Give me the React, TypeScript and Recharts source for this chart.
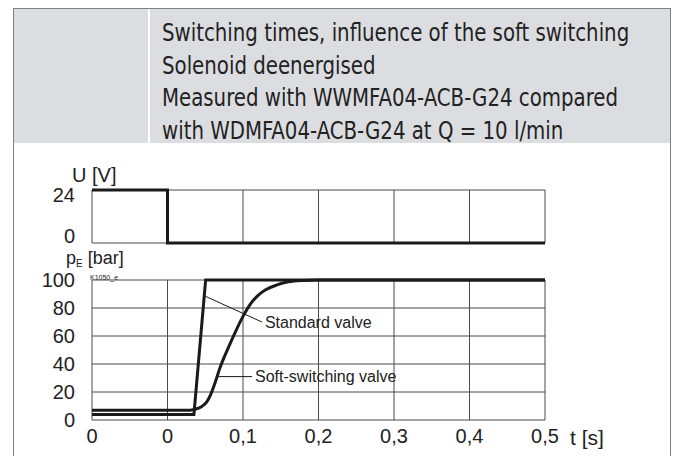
import React from 'react';
import { LineChart, Line, XAxis, YAxis, CartesianGrid, ReferenceLine, ReferenceDot } from 'recharts';

// ---- data ----
const titleLines = [
  'Switching  times, influence of the soft switching',
  'Solenoid deenergised',
  'Measured with WWMFA04-ACB-G24 compared',
  'with WDMFA04-ACB-G24 at Q = 10 l/min',
];
const timeTicks = [-0.1, 0, 0.1, 0.2, 0.3, 0.4, 0.5];
const timeTickLabels = ['0', '0', '0,1', '0,2', '0,3', '0,4', '0,5'];
const voltageTicks = [0, 24];
const pressureTicks = [0, 20, 40, 60, 80, 100];

const voltageT = [-0.1, 0, 0, 0.5];
const voltageU = [24, 24, 0, 0];

const standardT = [-0.1, 0.035, 0.0505, 0.5];
const standardP = [4, 4, 100, 100];

const softT = [-0.1, 0.03, 0.035, 0.045, 0.052, 0.057, 0.062, 0.07, 0.08, 0.09, 0.1, 0.11, 0.12, 0.13, 0.145, 0.16, 0.18, 0.2, 0.5];
const softP = [7, 7, 7.5, 9.5, 13, 18, 25, 38, 51, 63, 74, 83, 89, 93, 96.5, 98.7, 99.7, 100, 100];

const standardLabel = 'Standard valve';
const softLabel = 'Soft-switching valve';
const standardPointer = [{ x: 0.0497, y: 88.5 }, { x: 0.125, y: 70 }];
const softPointer = [{ x: 0.067, y: 31 }, { x: 0.112, y: 31 }];

const voltageData = voltageT.map((t, i) => ({ t, u: voltageU[i] }));
const standardData = standardT.map((t, i) => ({ t, p: standardP[i] }));
const softData = softT.map((t, i) => ({ t, p: softP[i] }));

const fmtTime = (v: number) => {
  const i = timeTicks.findIndex((x) => Math.abs(x - v) < 1e-9);
  return i >= 0 ? timeTickLabels[i] : String(v);
};

const FONT = '"Liberation Sans", Arial, sans-serif';
const NARROW = '"DejaVu Sans Condensed", "Liberation Sans Narrow", sans-serif';
const INK = '#1a1a1a';
const GRID = '#4a4a4a';
const TICK_FS = 20;
const tickStyle = { fontFamily: FONT, fontSize: TICK_FS, fill: '#222' };

const VoltageTick = (props: any) => {
  const { x, y, payload } = props;
  const dy = payload.value === 24 ? 5 : -7;
  return (
    <text x={x} y={y + dy} textAnchor="end" dominantBaseline="central" style={tickStyle}>
      {payload.value}
    </text>
  );
};

export default function App() {
  return (
    <div style={{ position: 'absolute', left: 0, top: 0, width: 676, height: 456, background: '#fff', overflow: 'hidden' }}>
      {/* frame */}
      <div style={{ position: 'absolute', left: 13, top: 8, width: 656, height: 470, border: '1px solid #808080' }} />
      <div style={{ position: 'absolute', left: 14, top: 9, width: 656, height: 134, background: '#dcdde0' }} />
      <div style={{ position: 'absolute', left: 148, top: 9, width: 2, height: 134, background: '#ffffff' }} />
      {titleLines.map((s, i) => (
        <div key={i} style={{ position: 'absolute', left: 162, top: 17 + i * 32.6, fontFamily: NARROW, fontSize: 24, lineHeight: '32px', color: '#222', whiteSpace: 'nowrap', transform: 'scaleX(0.915)', transformOrigin: 'left center' }}>{s}</div>
      ))}

      <div style={{ position: 'absolute', left: 72, top: 165, fontFamily: FONT, fontSize: 20, lineHeight: '20px', color: '#222', whiteSpace: 'nowrap' }}>U [V]</div>
      <div style={{ position: 'absolute', left: 66, top: 249, fontFamily: FONT, fontSize: 18, lineHeight: '18px', color: '#222', whiteSpace: 'nowrap' }}>
        p<span style={{ fontSize: 10, position: 'relative', top: 3 }}>E</span> [bar]
      </div>
      <div style={{ position: 'absolute', left: 90, top: 274, fontFamily: FONT, fontSize: 7, lineHeight: '7px', color: '#222', whiteSpace: 'nowrap' }}>K1050_e</div>
      <div style={{ position: 'absolute', left: 570, top: 427, fontFamily: FONT, fontSize: 21, lineHeight: '21px', color: '#222', whiteSpace: 'nowrap' }}>t [s]</div>

      {/* voltage chart */}
      <div style={{ position: 'absolute', left: 0, top: 0 }}>
        <LineChart width={676} height={260} data={voltageData} margin={{ top: 190, right: 131, bottom: 17, left: 32 }}>
          <CartesianGrid stroke={GRID} strokeWidth={1} />
          <XAxis dataKey="t" type="number" domain={[-0.1, 0.5]} ticks={timeTicks} interval={0} tick={{ fill: 'transparent', fontSize: 1 }} tickFormatter={() => ''} axisLine={false} tickLine={false} height={0} />
          <YAxis type="number" domain={[0, 24]} ticks={voltageTicks} interval={0} width={60} axisLine={false} tickLine={false} tickSize={0} tickMargin={17} tick={<VoltageTick />} />
          <Line dataKey="u" type="linear" stroke={INK} strokeWidth={3} dot={false} isAnimationActive={false} />
        </LineChart>
      </div>

      {/* pressure chart */}
      <div style={{ position: 'absolute', left: 0, top: 0 }}>
        <LineChart width={676} height={456} margin={{ top: 280, right: 131, bottom: 6, left: 32 }}>
          <CartesianGrid stroke={GRID} strokeWidth={1} />
          <XAxis dataKey="t" type="number" domain={[-0.1, 0.5]} ticks={timeTicks} interval={0} tickFormatter={fmtTime} height={30} axisLine={false} tickLine={false} tickSize={0} tickMargin={9} tick={tickStyle} allowDuplicatedCategory />
          <YAxis type="number" domain={[0, 100]} ticks={pressureTicks} interval={0} width={60} axisLine={false} tickLine={false} tickSize={0} tickMargin={17} tick={tickStyle} />
          <ReferenceLine segment={standardPointer} stroke={INK} strokeWidth={1} ifOverflow="visible" />
          <ReferenceLine segment={softPointer} stroke={INK} strokeWidth={1} ifOverflow="visible" />
          <ReferenceDot x={standardPointer[1].x} y={standardPointer[1].y} r={0} fill="none" stroke="none" ifOverflow="visible"
            label={{ value: standardLabel, position: 'right', offset: 3, style: { fontFamily: FONT, fontSize: 16, fill: '#222' } }} />
          <ReferenceDot x={softPointer[1].x} y={softPointer[1].y} r={0} fill="none" stroke="none" ifOverflow="visible"
            label={{ value: softLabel, position: 'right', offset: 3, style: { fontFamily: FONT, fontSize: 16, fill: '#222' } }} />
          <Line data={softData} dataKey="p" type="monotone" stroke={INK} strokeWidth={3} dot={false} isAnimationActive={false} />
          <Line data={standardData} dataKey="p" type="linear" stroke={INK} strokeWidth={3} dot={false} isAnimationActive={false} />
        </LineChart>
      </div>
    </div>
  );
}
